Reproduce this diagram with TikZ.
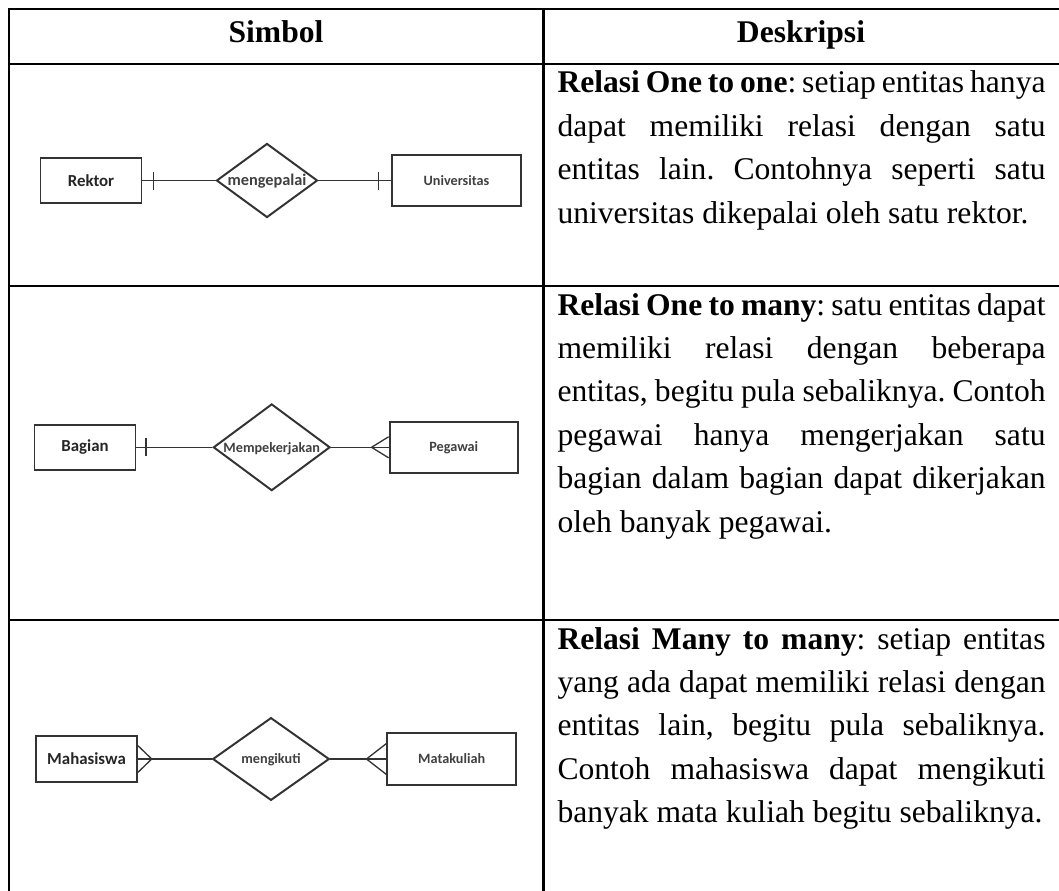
\documentclass[tikz,border=0pt]{standalone}
\usepackage{fontspec}
\setmainfont{Liberation Serif}
\newfontfamily\erfont{Carlito}
\usetikzlibrary{shapes.geometric}
\usetikzlibrary{calc}

% one pixel of the page, and the width of the text column
\newcommand{\pxu}{0.38pt}
\newcommand{\descw}{185.44pt}

\tikzset{
  grid line/.style={line width=1pt, line cap=rect},
  entity/.style={draw=black!80, line width=0.75pt, rectangle, inner sep=0pt,
    text=black!85, font=\erfont\bfseries\fontsize{6.4}{7}\selectfont},
  entl/.style={entity, minimum width=101*\pxu, minimum height=45.5*\pxu},
  entr/.style={entity, minimum width=128.5*\pxu, minimum height=51.5*\pxu,
    text=black!75, font=\erfont\bfseries\fontsize{5.4}{6}\selectfont},
  rel/.style={draw=black!80, line width=0.75pt, diamond, aspect=1.37, inner sep=-4pt,
    text height=.66em, text depth=.3em,
    text=black!75, font=\erfont\bfseries\fontsize{5.4}{6}\selectfont},
  conn/.style={draw=black!80, line width=0.5pt},
  head/.style={anchor=base, inner sep=0pt, font=\bfseries\fontsize{12}{14}\selectfont},
  desc/.style={anchor=base west, inner sep=0pt, font=\frenchspacing\fontsize{12}{14}\selectfont},
}

\begin{document}
\begin{tikzpicture}[x=\pxu, y=-\pxu]
  \useasboundingbox (0,0) rectangle (1059,890);
  \clip (0,0) rectangle (1059,890);

    %----------------------------------------------------------
    % Table grid
    %----------------------------------------------------------
  \foreach \yy in {9,64,286,620}
    \draw[grid line] (9,\yy) -- (1066,\yy);
  \draw[grid line] (9,9) -- (9,900);
  \draw[grid line] (543.3,9) -- (543.3,900);

  \node[head] (simbol) at (276,43) {Simbol};
  \node[head] (deskripsi) at (801,43) {Deskripsi};

    %----------------------------------------------------------
    % One to one
    %----------------------------------------------------------
  \node[entl] (rektor) at (91,180.5) {Rektor};
  \node[rel, minimum width=101*\pxu, minimum height=74*\pxu,
    font=\erfont\bfseries\fontsize{6.2}{7}\selectfont] (kepalai) at (267,180.5) {mengepalai};
  \node[entr] (univ) at (456.5,180.5) {Universitas};
  \draw[conn] (rektor) -- (kepalai) -- (univ);
  \draw[conn] ($(rektor.east)+(11,-9)$) -- ++(0,18);
  \draw[conn] ($(univ.west)+(-13,-9)$) -- ++(0,18);

  \foreach \ln [count=\i from 0] in {{\textbf{Relasi One to one}: setiap entitas hanya},
      {dapat memiliki relasi dengan satu},
      {entitas lain. Contohnya seperti satu}}
    \node[desc] (one-\i) at (557,{93+43.4*\i}) {\makebox[\descw][s]{\ln}};
  \node[desc] (one-3) at (557,223.2) {universitas dikepalai oleh satu rektor.};

    %----------------------------------------------------------
    % One to many
    %----------------------------------------------------------
  \node[entl] (bagian) at (85,447.3) {Bagian};
  \node[rel, minimum width=116.7*\pxu, minimum height=86.7*\pxu] (kerja) at (271.7,447.3) {Mempekerjakan};
  \node[entr] (pegawai) at (453.8,447.3) {Pegawai};
  \draw[conn] (bagian) -- (kerja) -- (pegawai);
  \draw[conn] ($(bagian.east)+(9.5,-9)$) -- ++(0,18);
  \draw[conn] ($(pegawai.west)+(0,-10.5)$) -- ($(pegawai.west)+(-17,0)$) -- ($(pegawai.west)+(0,10.5)$);

  \foreach \ln [count=\i from 0] in {{\textbf{Relasi One to many}: satu entitas dapat},
      {memiliki relasi dengan beberapa},
      {entitas, begitu pula sebaliknya. Contoh},
      {pegawai hanya mengerjakan satu},
      {bagian dalam bagian dapat dikerjakan}}
    \node[desc] (many-\i) at (557,{315+43.4*\i}) {\makebox[\descw][s]{\ln}};
  \node[desc] (many-5) at (557,532) {oleh banyak pegawai.};

    %----------------------------------------------------------
    % Many to many
    %----------------------------------------------------------
  \node[entl] (mhs) at (86.5,759) {Mahasiswa};
  \node[rel, minimum width=116.6*\pxu, minimum height=82.7*\pxu] (ikut) at (271,759) {mengikuti};
  \node[entr] (matkul) at (451.7,759) {Matakuliah};
  \draw[conn] (mhs) -- (ikut) -- (matkul);
  \draw[conn] ($(mhs.east)+(0,-13.3)$) -- ($(mhs.east)+(13.7,0)$) -- ($(mhs.east)+(0,13.3)$);
  \draw[conn] ($(matkul.west)+(0,-15.5)$) -- ($(matkul.west)+(-20,0)$) -- ($(matkul.west)+(0,15.5)$);

  \foreach \ln [count=\i from 0] in {{\textbf{Relasi Many to many}: setiap entitas},
      {yang ada dapat memiliki relasi dengan},
      {entitas lain, begitu pula sebaliknya.},
      {Contoh mahasiswa dapat mengikuti}}
    \node[desc] (mm-\i) at (557,{649+43.4*\i}) {\makebox[\descw][s]{\ln}};
  \node[desc] (mm-4) at (557,822.6) {banyak mata kuliah begitu sebaliknya.};
\end{tikzpicture}
\end{document}
